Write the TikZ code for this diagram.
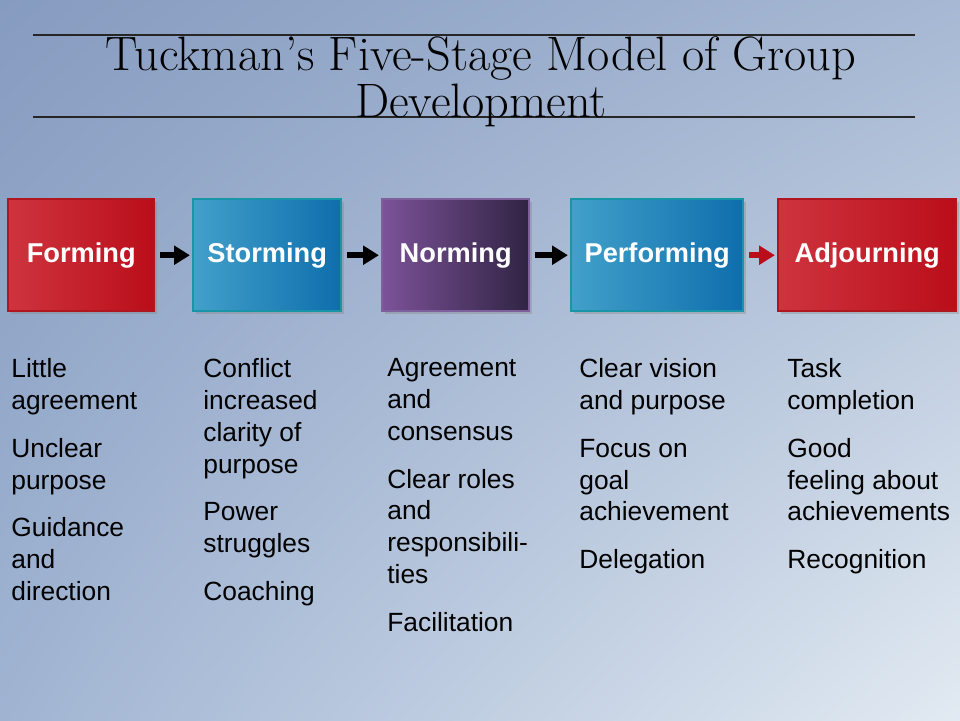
\documentclass[tikz,border=0pt]{standalone}
\usepackage{fontspec}
\setsansfont{Liberation Sans}
\usetikzlibrary{arrows.meta, shadows, shadings}
\definecolor{skytl}{RGB}{134,155,192}
\definecolor{skytr}{RGB}{166,184,211}
\definecolor{skybl}{RGB}{160,180,210}
\definecolor{skybr}{RGB}{226,234,242}
\definecolor{redlight}{RGB}{206,52,62}
\definecolor{reddark}{RGB}{186,14,26}
\definecolor{redline}{RGB}{176,22,32}
\definecolor{bluelight}{RGB}{66,160,202}
\definecolor{bluedark}{RGB}{14,110,172}
\definecolor{tealline}{RGB}{24,150,168}
\definecolor{plumlight}{RGB}{124,82,152}
\definecolor{plumdark}{RGB}{48,36,68}
\definecolor{plumline}{RGB}{126,96,156}

\begin{document}
\begin{tikzpicture}[
    x=0.02cm, y=-0.02cm,
    stage/.style={anchor=north west, minimum height=2.24cm, inner sep=0pt,
      draw, line width=1.4pt, text=white,
      font=\sffamily\bfseries\fontsize{15.5pt}{18pt}\selectfont,
      drop shadow={shadow xshift=1.6pt, shadow yshift=-1.6pt, opacity=.35}},
    redstage/.style={stage, draw=redline, left color=redlight, right color=reddark},
    bluestage/.style={stage, draw=tealline, left color=bluelight, right color=bluedark},
    plumstage/.style={stage, draw=plumline, left color=plumlight, right color=plumdark},
    note/.style={anchor=north west, inner sep=0pt, align=left,
      font=\sffamily\fontsize{15pt}{18.14pt}\selectfont},
    flow/.style={line width=3.6pt, -{Triangle[length=9pt, width=10.5pt]},
      shorten <=2.6pt, shorten >=1.2pt},
    rule/.style={line width=0.6pt, draw=black!85},
  ]
    \useasboundingbox (0,0) rectangle (960,720);
    \shade[upper left=skytl, upper right=skytr, lower left=skybl, lower right=skybr]
      (0,0) rectangle (960,720);

    % title
    \draw[rule] (33,35) -- (915,35);
    \draw[rule] (33,117) -- (915,117);
    \node[anchor=north, inner sep=0pt, align=center,
      font=\fontsize{27.5pt}{26.6pt}\selectfont] (title) at (481,36)
      {Tuckman's Five-Stage Model of Group\\Development};

    % stages
    \node[redstage, minimum width=2.92cm] (forming) at (7,198) {Forming};
    \node[bluestage, minimum width=2.96cm] (storming) at (192,198) {Storming};
    \node[plumstage, minimum width=2.94cm] (norming) at (381,198) {Norming};
    \node[bluestage, minimum width=3.44cm] (performing) at (570,198) {Performing};
    \node[redstage, minimum width=3.56cm] (adjourning) at (777,198) {Adjourning};

    \draw[flow] (forming) -- (storming);
    \draw[flow] (storming) -- (norming);
    \draw[flow] (norming) -- (performing);
    \draw[flow, draw=reddark] (performing) -- (adjourning);

    % traits of each stage
    \node[note] (formingnote) at (11,358)
      {Little\\agreement\\[9.07pt]Unclear\\purpose\\[9.07pt]Guidance\\and\\direction};
    \node[note] (stormingnote) at (203,358)
      {Conflict\\increased\\clarity of\\purpose\\[9.07pt]Power\\struggles\\[9.07pt]Coaching};
    \node[note] (normingnote) at (387,358)
      {Agreement\\and\\consensus\\[9.07pt]Clear roles\\and\\responsibili-\\ties\\[9.07pt]Facilitation};
    \node[note] (performingnote) at (579,358)
      {Clear vision\\and purpose\\[9.07pt]Focus on\\goal\\achievement\\[9.07pt]Delegation};
    \node[note] (adjourningnote) at (787,358)
      {Task\\completion\\[9.07pt]Good\\feeling about\\achievements\\[9.07pt]Recognition};
  \end{tikzpicture}
\end{document}
